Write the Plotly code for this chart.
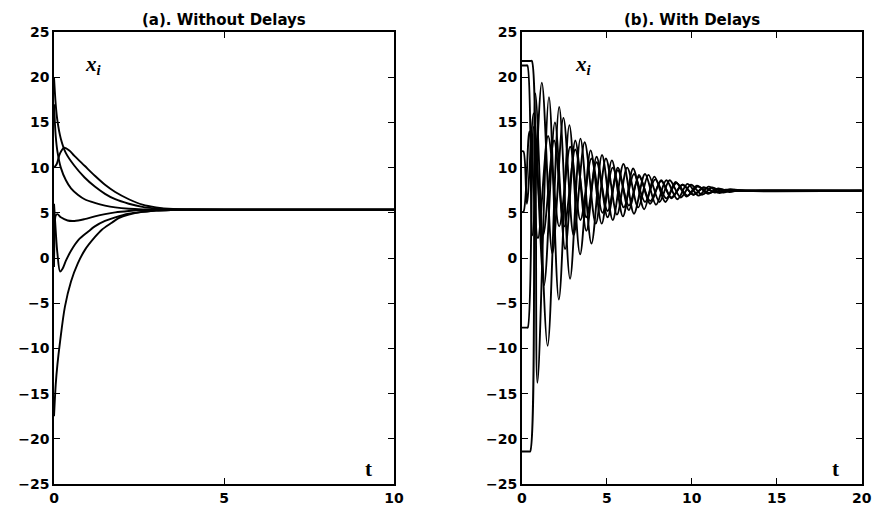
import plotly.graph_objects as go

# ---------------- data: (a) without delays ----------------
a_t = {
    "A": [0, 0.08, 0.18, 0.30, 0.45, 0.60, 0.90, 1.20, 1.50, 1.80, 2.20, 2.60, 3.00, 3.50, 4.00, 5.00, 10.00],
    "B": [0, 0.05, 0.10, 0.20, 0.35, 0.60, 0.90, 1.20, 1.50, 1.80, 2.20, 2.60, 3.00, 3.50, 4.00, 5.00, 10.00],
    "C": [0, 0.05, 0.10, 0.20, 0.35, 0.50, 0.70, 0.90, 1.20, 1.50, 1.80, 2.20, 2.60, 3.00, 4.00, 10.00],
    "D": [0, 0.02, 0.05, 0.10, 0.20, 0.40, 0.60, 0.90, 1.20, 1.50, 1.80, 2.20, 2.60, 3.00, 4.00, 10.00],
    "E": [0, 0.05, 0.10, 0.18, 0.25, 0.35, 0.50, 0.72, 1.00, 1.20, 1.50, 1.80, 2.20, 2.60, 3.00, 3.50, 4.00, 10.00],
    "F": [0, 0.05, 0.10, 0.18, 0.32, 0.50, 0.70, 0.91, 1.20, 1.40, 1.70, 1.90, 2.20, 2.60, 3.00, 3.50, 4.00, 10.00],
}
a_x = {
    "A": [10.0, 10.4, 11.6, 12.2, 11.9, 11.3, 10.2, 9.1, 8.1, 7.3, 6.5, 5.9, 5.6, 5.42, 5.37, 5.35, 5.35],
    "B": [20.0, 17.0, 15.2, 13.2, 11.6, 10.2, 8.9, 7.9, 7.1, 6.5, 6.0, 5.65, 5.48, 5.38, 5.36, 5.35, 5.35],
    "C": [17.0, 13.5, 11.8, 10.0, 8.6, 7.7, 7.0, 6.5, 6.1, 5.8, 5.6, 5.45, 5.38, 5.36, 5.35, 5.35],
    "D": [-1.0, 3.0, 4.7, 4.85, 4.5, 4.15, 4.1, 4.3, 4.6, 4.85, 5.05, 5.2, 5.3, 5.33, 5.35, 5.35],
    "E": [6.0, 3.0, 0.5, -1.5, -1.2, -0.3, 0.8, 2.0, 2.9, 3.5, 4.1, 4.5, 4.9, 5.1, 5.25, 5.32, 5.35, 5.35],
    "F": [-17.5, -14.0, -11.8, -9.2, -5.4, -2.6, -0.6, 0.9, 2.3, 3.1, 3.9, 4.4, 4.8, 5.1, 5.25, 5.32, 5.35, 5.35],
}

# ---------------- data: (b) with delays ----------------
b_t = {
    "R1": [0, 0.40, 0.49, 0.80, 1.52, 2.20, 2.84, 3.45, 4.10, 4.72, 5.35, 5.98, 6.60, 7.25, 7.90, 8.50, 9.15, 9.75, 10.40, 11.00, 11.60, 12.25, 12.90, 14.0, 20.0],
    "R2": [0, 0.50, 0.59, 0.92, 1.60, 2.18, 2.80, 3.43, 4.05, 4.70, 5.30, 5.95, 6.55, 7.20, 7.80, 8.45, 9.05, 9.70, 10.30, 10.95, 11.55, 12.20, 12.80, 14.0, 20.0],
    "R3": [0, 0.25, 0.33, 0.62, 1.18, 1.80, 2.45, 3.05, 3.70, 4.35, 4.95, 5.60, 6.20, 6.85, 7.45, 8.10, 8.70, 9.35, 9.95, 10.60, 11.20, 11.85, 12.50, 13.2, 20.0],
    "R4": [0, 0.10, 0.30, 0.70, 1.31, 1.95, 2.55, 3.15, 3.80, 4.40, 5.05, 5.65, 6.30, 6.90, 7.55, 8.20, 8.80, 9.45, 10.10, 10.70, 11.35, 12.00, 12.70, 13.5, 20.0],
    "R5": [0, 0.10, 0.45, 0.95, 1.55, 2.20, 2.85, 3.45, 4.10, 4.75, 5.35, 6.00, 6.60, 7.25, 7.85, 8.50, 9.10, 9.75, 10.35, 11.00, 11.60, 12.30, 13.0, 20.0],
    "R6": [0, 0.28, 0.35, 0.70, 1.25, 1.90, 2.50, 3.15, 3.80, 4.40, 5.05, 5.65, 6.30, 6.90, 7.55, 8.20, 8.80, 9.45, 10.10, 10.70, 11.35, 12.00, 12.70, 20.0],
}
b_x = {
    "R1": [-21.4, -21.4, -21.4, 18.2, -9.7, 16.7, -2.3, 13.2, 1.6, 11.4, 4.2, 10.4, 4.9, 9.3, 5.9, 8.6, 6.5, 8.2, 6.9, 7.9, 7.2, 7.6, 7.4, 7.45, 7.45],
    "R2": [21.8, 21.8, 21.8, -13.8, 17.8, -4.6, 14.7, 0.4, 11.9, 3.8, 10.8, 4.6, 9.9, 5.4, 9.0, 6.2, 8.4, 6.8, 8.0, 7.1, 7.7, 7.3, 7.5, 7.45, 7.45],
    "R3": [21.3, 21.3, 21.3, 2.5, 19.4, 0.5, 15.5, 2.5, 12.8, 3.8, 11.0, 4.8, 10.0, 5.6, 9.2, 6.2, 8.6, 6.7, 8.1, 7.0, 7.8, 7.25, 7.55, 7.42, 7.45],
    "R4": [11.8, 11.8, 6.0, 16.0, -3.0, 15.0, 1.0, 13.0, 3.0, 11.2, 4.5, 10.0, 5.3, 9.2, 6.0, 8.6, 6.6, 8.1, 7.0, 7.8, 7.25, 7.55, 7.42, 7.45, 7.45],
    "R5": [5.1, 5.1, 14.0, 2.2, 13.5, 3.5, 12.3, 4.2, 11.0, 5.0, 10.0, 5.6, 9.3, 6.2, 8.7, 6.6, 8.3, 6.9, 7.9, 7.2, 7.6, 7.4, 7.45, 7.45],
    "R6": [-7.7, -7.7, -7.7, 14.5, 2.5, 13.0, 3.5, 12.0, 4.5, 10.6, 5.2, 9.7, 5.8, 9.0, 6.3, 8.5, 6.7, 8.1, 7.0, 7.8, 7.3, 7.5, 7.45, 7.45],
}

y_ticks = [-25, -20, -15, -10, -5, 0, 5, 10, 15, 20, 25]
xa_ticks = [0, 5, 10]
xb_ticks = [0, 5, 10, 15, 20]
titles = ["(a). Without Delays", "(b). With Delays"]

fig = go.Figure()
line = dict(color="black", width=1.9, shape="spline", smoothing=0.9)
for k in a_t:
    fig.add_trace(go.Scatter(x=a_t[k], y=a_x[k], mode="lines", line=line,
                             xaxis="x", yaxis="y", showlegend=False, hoverinfo="skip"))
for k in b_t:
    fig.add_trace(go.Scatter(x=b_t[k], y=b_x[k], mode="lines", line=line,
                             xaxis="x2", yaxis="y2", showlegend=False, hoverinfo="skip"))

tickfont = dict(family="DejaVu Sans", size=14, color="black", weight="bold")
common = dict(showline=True, linecolor="black", linewidth=1.6, mirror="ticks",
              ticks="inside", ticklen=6, tickwidth=1.2, tickcolor="black",
              showgrid=False, zeroline=False, tickfont=tickfont, automargin=False)

fig.update_layout(
    width=874, height=508,
    margin=dict(l=0, r=0, t=32, b=24),
    paper_bgcolor="white", plot_bgcolor="white",
    xaxis=dict(domain=[0.0618, 0.4508], range=[0, 10], tickvals=xa_ticks, anchor="y", **common),
    yaxis=dict(domain=[0, 1], range=[-25, 25], tickvals=y_ticks, anchor="x", **common),
    xaxis2=dict(domain=[0.597, 0.986], range=[0, 20], tickvals=xb_ticks, anchor="y2", **common),
    yaxis2=dict(domain=[0, 1], range=[-25, 25], tickvals=y_ticks, anchor="x2", **common),
)

ann = []
for i, (xr, title) in enumerate(zip([(0.0618, 0.4508), (0.597, 0.986)], titles)):
    ann.append(dict(text="<b>" + title + "</b>", x=(xr[0] + xr[1]) / 2, y=1.0,
                    xref="paper", yref="paper", xanchor="center", yanchor="bottom",
                    yshift=1, showarrow=False,
                    font=dict(family="DejaVu Sans", size=15, color="black")))
xi_font = dict(family="Liberation Serif", size=21, color="black")
ann.append(dict(text="<b><i>x</i></b><sub><b><i>i</i></b></sub>", x=0.85, y=21.3, xref="x", yref="y",
                xanchor="left", yanchor="middle", showarrow=False, font=xi_font))
ann.append(dict(text="<b><i>x</i></b><sub><b><i>i</i></b></sub>", x=3.0, y=21.3, xref="x2", yref="y2",
                xanchor="left", yanchor="middle", showarrow=False, font=xi_font))
t_font = dict(family="Liberation Serif", size=21, color="black")
ann.append(dict(text="<b>t</b>", x=9.26, y=-23.3, xref="x", yref="y", xanchor="center",
                yanchor="middle", showarrow=False, font=t_font))
ann.append(dict(text="<b>t</b>", x=18.45, y=-23.3, xref="x2", yref="y2", xanchor="center",
                yanchor="middle", showarrow=False, font=t_font))
fig.update_layout(annotations=ann)

fig.write_html("out.html")
